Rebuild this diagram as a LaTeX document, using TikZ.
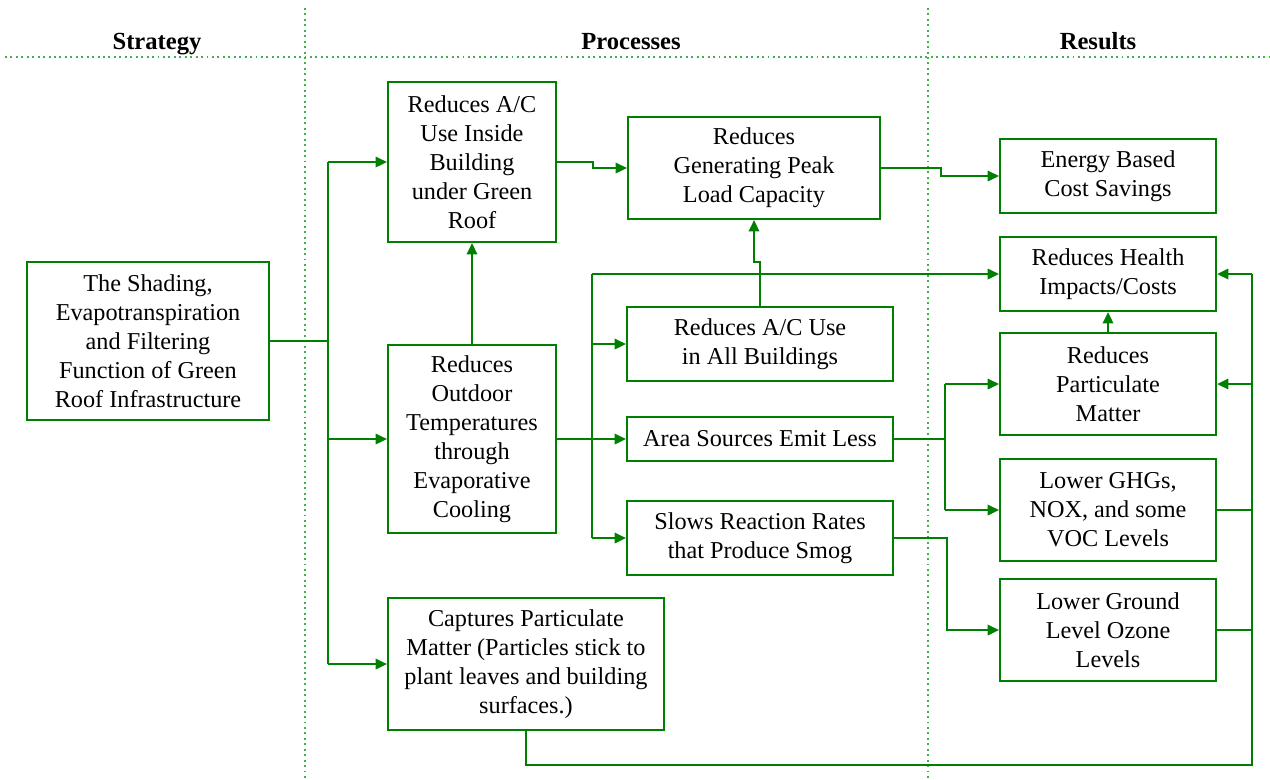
\documentclass[tikz,border=0pt]{standalone}
\usepackage{fontspec}
\setmainfont{Liberation Serif}
\usetikzlibrary{arrows.meta}
\definecolor{lg}{RGB}{0,128,0}
\definecolor{dg}{RGB}{70,175,70}
\begin{document}
\begin{tikzpicture}[x=0.02cm,y=-0.02cm,
  bx/.style n args={2}{draw=lg,line width=1.2pt,fill=white,inner sep=0pt,align=center,
     minimum width=#1*0.02cm,minimum height=#2*0.02cm,
     font=\fontsize{13.8}{16.5}\selectfont},
  ln/.style={draw=lg,line width=1.2pt},
  arr/.style={ln,-{Triangle[length=6.5pt,width=6pt]}},
  sep/.style={draw=dg,line width=1.1pt,dotted},
  hd/.style={font=\fontsize{14}{16}\selectfont\bfseries,anchor=base}]
\useasboundingbox (0,0) rectangle (1270,779);
% separators
\draw[sep] (5,57) -- (1270,57);
\draw[sep] (305,8) -- (305,779);
\draw[sep] (928,8) -- (928,779);
\node[hd] (h1) at (157,49) {Strategy};
\node[hd] (h2) at (631,49) {Processes};
\node[hd] (h3) at (1098,49) {Results};
% boxes
\node[bx={242}{158}] (strat) at (148,341) {The Shading,\\Evapotranspiration\\and Filtering\\Function of Green\\Roof Infrastructure};
\node[bx={168}{160}] (acin) at (472,162) {Reduces A/C\\Use Inside\\Building\\under Green\\Roof};
\node[bx={168}{188}] (outd) at (472,439) {Reduces\\Outdoor\\Temperatures\\through\\Evaporative\\Cooling};
\node[bx={276}{132}] (capt) at (526,664) {Captures Particulate\\Matter (Particles stick to\\plant leaves and building\\surfaces.)};
\node[bx={252}{102}] (peak) at (754,168) {Reduces\\Generating Peak\\Load Capacity};
\node[bx={266}{74}] (acall) at (760,344) {Reduces A/C Use\\in All Buildings};
\node[bx={266}{44}] (area) at (760,439) {Area Sources Emit Less};
\node[bx={266}{74}] (slows) at (760,538) {Slows Reaction Rates\\that Produce Smog};
\node[bx={216}{74}] (energy) at (1108,176) {Energy Based\\Cost Savings};
\node[bx={216}{74}] (health) at (1108,274) {Reduces Health\\Impacts/Costs};
\node[bx={216}{102}] (pm) at (1108,384) {Reduces\\Particulate\\Matter};
\node[bx={216}{102}] (ghg) at (1108,510) {Lower GHGs,\\NOX, and some\\VOC Levels};
\node[bx={216}{102}] (ozone) at (1108,630) {Lower Ground\\Level Ozone\\Levels};
% trunk coordinates
\coordinate (t1) at (328,341);
\coordinate (t2) at (592,439);
\coordinate (t3) at (945,439);
\coordinate (t4) at (1252,274);
% strategy connectors
\draw[ln] (strat.east) -- (t1);
\draw[ln] (t1 |- acin.west) -- (t1 |- capt.west);
\draw[arr] (t1 |- acin.west) -- (acin.west);
\draw[arr] (t1 |- outd.west) -- (outd.west);
\draw[arr] (t1 |- capt.west) -- (capt.west);
% processes
\draw[arr] (acin.east) -- ++(36,0) |- (peak.west);
\draw[arr] (outd.north) -- (acin.south);
\draw[ln] (outd.east) -- (t2);
\draw[ln] (t2 |- health.west) -- (t2 |- slows.west);
\draw[arr] (t2 |- health.west) -- (health.west);
\draw[arr] (t2 |- acall.west) -- (acall.west);
\draw[arr] (t2) -- (area.west);
\draw[arr] (t2 |- slows.west) -- (slows.west);
\draw[arr] (acall.north) -- ++(0,-44) -| (peak.south);
\draw[ln] (area.east) -- (t3);
\draw[ln] (t3 |- pm.west) -- (t3 |- ghg.west);
\draw[arr] (t3 |- pm.west) -- (pm.west);
\draw[arr] (t3 |- ghg.west) -- (ghg.west);
\draw[arr] (slows.east) -- ++(53,0) |- (ozone.west);
\draw[arr] (peak.east) -- ++(60,0) |- (energy.west);
% results
\draw[arr] (pm.north) -- (health.south);
\draw[ln] (capt.south) -- ++(0,34) -| (t4);
\draw[ln] (ghg.east) -- (t4 |- ghg.east);
\draw[ln] (ozone.east) -- (t4 |- ozone.east);
\draw[arr] (t4) -- (health.east);
\draw[arr] (t4 |- pm.east) -- (pm.east);
\end{tikzpicture}
\end{document}
